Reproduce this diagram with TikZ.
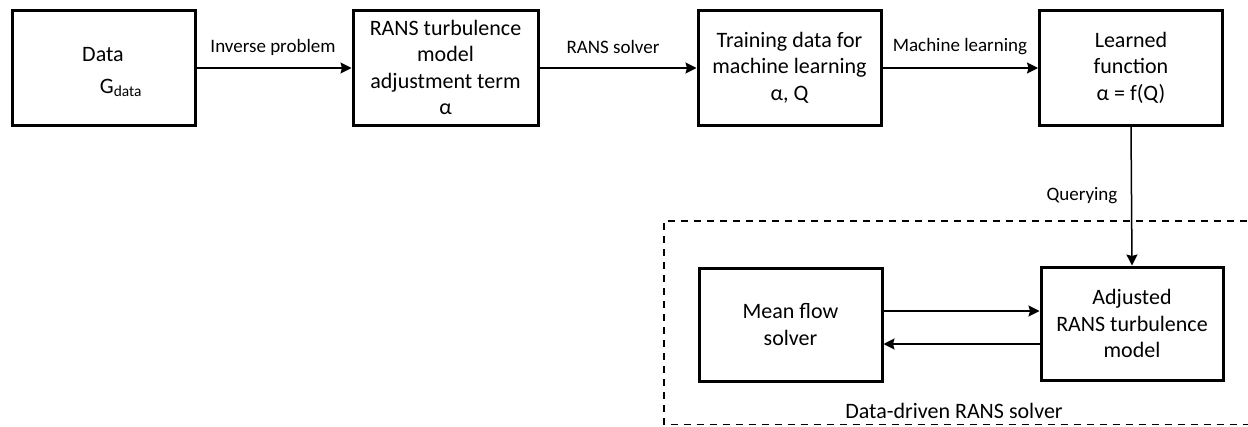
\documentclass[tikz,border=0pt]{standalone}
\usepackage{fontspec}
\setmainfont{Carlito}
\usetikzlibrary{arrows.meta}
\tikzset{
  blk/.style={draw=black, line width=3pt, rectangle, inner sep=0pt, align=center,
    font=\fontsize{22}{26.5}\selectfont},
  conn/.style={draw=black, line width=1.5pt, -{Stealth[length=11pt,width=11pt,inset=1.5pt]}},
  elabel/.style={font=\fontsize{19}{23}\selectfont, inner sep=0pt},
  txt/.style={font=\fontsize{22}{26.5}\selectfont, inner sep=0pt},
  grp/.style={draw=black, line width=1.5pt, dash pattern=on 7pt off 6pt}
}
\begin{document}
\begin{tikzpicture}[x=1pt,y=-1pt]
\useasboundingbox (0,0) rectangle (1248,426);
% top row
\node[blk, minimum width=183pt, minimum height=115pt] (data) at (103.5,67.5) {};
\node[txt] (dataA) at (103,55) {Data};
\node[txt] (dataG) at (121,88) {G\textsubscript{data}};
\node[blk, minimum width=185pt, minimum height=115pt] (rans) at (445.5,67.5)
  {RANS turbulence\\model\\adjustment term\\α};
\node[blk, minimum width=183pt, minimum height=115pt] (train) at (789.5,67.5)
  {Training data for\\machine learning\\α, Q};
\node[blk, minimum width=183pt, minimum height=115pt] (learn) at (1131,67.5)
  {Learned\\function\\α = f(Q)};
% bottom row
\node[blk, minimum width=183pt, minimum height=113pt] (mean) at (790.5,324.5)
  {Mean flow\\solver};
\node[blk, minimum width=182pt, minimum height=113pt] (adj) at (1132,323.5)
  {Adjusted\\RANS turbulence\\model};
% connectors
\draw[conn] (data.east |- 0,68) -- (rans.west |- 0,68);
\draw[conn] (rans.east |- 0,68) -- (train.west |- 0,68);
\draw[conn] (train.east |- 0,68) -- (learn.west |- 0,68);
\draw[conn] (learn.south) -- (adj.north);
\draw[conn] (mean.east |- 0,311) -- (adj.west |- 0,311);
\draw[conn] (adj.west |- 0,344) -- (mean.east |- 0,344);
% labels
\node[elabel] (l1) at (273,47) {Inverse problem};
\node[elabel] (l2) at (613,47) {RANS solver};
\node[elabel] (l3) at (960,47) {Machine learning};
\node[elabel] (l4) at (1082,196) {Querying};
% dashed group
\coordinate (gtr) at (1260,221);
\coordinate (gtl) at (664,221);
\coordinate (gbl) at (664,424.5);
\coordinate (gbr) at (1260,424.5);
\draw[grp] (gtr) -- (gtl) -- (gbl) -- (gbr);
\node[txt] (glabel) at (954,411) {Data-driven RANS solver};
\end{tikzpicture}
\end{document}
